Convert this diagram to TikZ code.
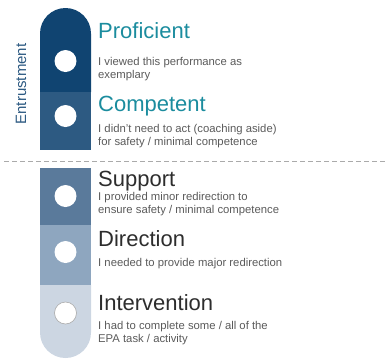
\documentclass[tikz,border=0pt]{standalone}
\usepackage{fontspec}
\setmainfont{Liberation Sans}
\usepackage{xcolor}
\usetikzlibrary{calc}
\definecolor{epaprof}{RGB}{16, 68, 113}
\definecolor{epacomp}{RGB}{45, 90, 130}
\definecolor{epasupp}{RGB}{90, 122, 155}
\definecolor{epadir}{RGB}{142, 166, 191}
\definecolor{epaint}{RGB}{204, 214, 226}
\definecolor{epateal}{RGB}{27, 140, 158}
\definecolor{epahead}{RGB}{45, 45, 45}
\definecolor{epatext}{RGB}{90, 90, 90}
\definecolor{epadash}{RGB}{170, 170, 170}

\tikzset{
  heading/.style={anchor=base west, inner sep=0pt, font=\fontsize{22}{22}\selectfont},
  desc/.style={anchor=base west, inner sep=0pt, align=left, text=epatext,
    font=\fontsize{11.3}{13}\selectfont},
  dot/.style={circle, fill=white, minimum size=22pt, inner sep=0pt}
}

\begin{document}
\begin{tikzpicture}[x=1pt, y=-1pt]
\useasboundingbox (0,0) rectangle (389,360);

% scale bar (y runs downwards, so the caps use flipped angles)
\fill[epaprof] (40,92) -- (40,33.5) arc[start angle=180, end angle=360, radius=25.5] -- (91,92) -- cycle;
\fill[epacomp] (40,92) rectangle (91,150);
\fill[epasupp] (40,168) rectangle (91,225);
\fill[epadir] (40,225) rectangle (91,285);
\fill[epaint] (40,285) -- (91,285) -- (91,332.5) arc[start angle=0, end angle=180, radius=25.5] -- cycle;

% level markers
\node[dot] (d1) at (65.5,61) {};
\node[dot] (d2) at (65.5,116) {};
\node[dot] (d3) at (65.5,196) {};
\node[dot] (d4) at (65.5,252) {};
\node[dot, draw=epadash, line width=0.6pt] (d5) at (65.5,313) {};

% side label
\node[rotate=90, text=epacomp, font=\fontsize{15}{15}\selectfont] (entr) at (21,84) {Entrustment};

% divider
\draw[epadash, dashed, line width=1pt, dash pattern=on 5pt off 3pt] (4,161) -- (386,161);

% entrustment levels (two-line texts sit on their last baseline)
\node[heading, text=epateal] (prof) at (98,38) {Proficient};
\node[desc] (profd) at (98,78) {I viewed this performance as\\exemplary};
\node[heading, text=epateal] (comp) at (98,111) {Competent};
\node[desc] (compd) at (98,145) {I didn't need to act (coaching aside)\\for safety / minimal competence};

% supervision levels
\node[heading, text=epahead] (supp) at (98,186) {Support};
\node[desc] (suppd) at (98,213) {I provided minor redirection to\\ensure safety / minimal competence};
\node[heading, text=epahead] (dirn) at (98,246) {Direction};
\node[desc] (dirnd) at (98,266) {I needed to provide major redirection};
\node[heading, text=epahead] (intv) at (98,310) {Intervention};
\node[desc] (intvd) at (98,342) {I had to complete some / all of the\\EPA task / activity};
\end{tikzpicture}
\end{document}
